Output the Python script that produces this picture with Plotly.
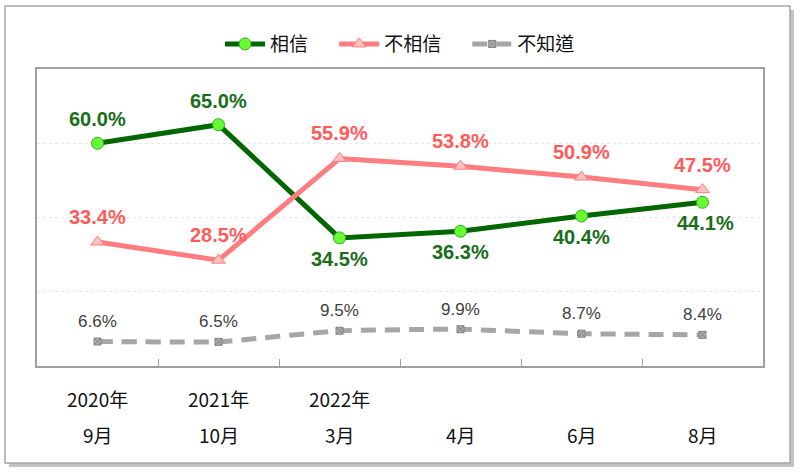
import plotly.graph_objs as go

# 調查時間
categories = ['2020年9月', '2021年10月', '2022年3月', '2022年4月', '2022年6月', '2022年8月']
year_labels = ['2020年', '2021年', '2022年', '', '', '']
month_labels = ['9月', '10月', '3月', '4月', '6月', '8月']

# 各選項比例 (%)
believe = [60.0, 65.0, 34.5, 36.3, 40.4, 44.1]
not_believe = [33.4, 28.5, 55.9, 53.8, 50.9, 47.5]
dont_know = [6.6, 6.5, 9.5, 9.9, 8.7, 8.4]

FONT = 'Liberation Sans, Noto Sans CJK TC, sans-serif'
CJK_FONT = 'Noto Sans CJK TC, sans-serif'
GREEN = '#006600'
GREEN_TXT = '#1a6e1a'
PINK = '#ff7c80'
PINK_TXT = '#ff5b5b'
GRAY = '#a6a6a6'
PAD = '\u00a0' * 4

line_b = go.Scatter(
    x=categories, y=believe, name='相信' + PAD, mode='lines+markers',
    line=dict(color=GREEN, width=5),
    marker=dict(symbol='circle', size=12, color='#66ff33',
                line=dict(color='#33aa22', width=1)))

line_nb = go.Scatter(
    x=categories, y=not_believe, name='不相信' + PAD, mode='lines+markers',
    line=dict(color=PINK, width=5),
    marker=dict(symbol='triangle-up', size=12, color='#ffc0c0',
                line=dict(color=PINK, width=1)))

line_dk = go.Scatter(
    x=categories, y=dont_know, name='不知道', mode='lines+markers',
    line=dict(color=GRAY, width=5, dash='15px,9px', shape='spline', smoothing=0.3),
    marker=dict(symbol='square-x', size=7, color='#b0b0b0',
                line=dict(color='#808080', width=1)))

annotations = []
# 相信 labels: first two above, rest below
for i, (c, v) in enumerate(zip(categories, believe)):
    up = i < 2
    annotations.append(dict(
        x=c, y=v, xref='x', yref='y', text='%.1f%%' % v, showarrow=False,
        yshift=24 if up else -21, xshift=3 if i == 5 else 0,
        font=dict(family=FONT, size=20, color=GREEN_TXT, weight='bold')))
for i, (c, v) in enumerate(zip(categories, not_believe)):
    annotations.append(dict(
        x=c, y=v, xref='x', yref='y', text='%.1f%%' % v, showarrow=False,
        yshift=25, font=dict(family=FONT, size=20, color=PINK_TXT, weight='bold')))
for c, v in zip(categories, dont_know):
    annotations.append(dict(
        x=c, y=v, xref='x', yref='y', text='%.1f%%' % v, showarrow=False,
        yshift=20, font=dict(family=FONT, size=17, color='#404040')))
# x 軸兩行標籤
for c, yr, mo in zip(categories, year_labels, month_labels):
    if yr:
        annotations.append(dict(
            x=c, y=-0.111, xref='x', yref='paper', text=yr, showarrow=False,
            yanchor='middle', font=dict(family=CJK_FONT, size=19, color='#111111')))
    annotations.append(dict(
        x=c, y=-0.232, xref='x', yref='paper', text=mo, showarrow=False,
        yanchor='middle', font=dict(family=CJK_FONT, size=19, color='#111111')))

# 外框 + 陰影
px_w, px_h = 726.0, 297.0
def px(xp, yp):
    return (xp - 37) / px_w, (366 - yp) / px_h

sx0, sy0 = px(9, 10)
sx1, sy1 = px(794, 467)
bx0, by0 = px(5, 6)
bx1, by1 = px(790, 463)
shapes = [
    dict(type='rect', xref='paper', yref='paper', x0=sx0, y0=sy0, x1=sx1, y1=sy1,
         fillcolor='#c4c4c4', line=dict(width=0), layer='below'),
    dict(type='rect', xref='paper', yref='paper', x0=bx0, y0=by0, x1=bx1, y1=by1,
         fillcolor='white', line=dict(color='#a8a8a8', width=1.5), layer='below'),
]

layout_s = go.Layout(
    width=800,
    height=472,
    margin=dict(l=37, r=37, t=69, b=106),
    paper_bgcolor='white',
    plot_bgcolor='rgba(0,0,0,0)',
    font=dict(family=FONT, size=19, color='#111111'),
    showlegend=True,
    legend=dict(orientation='h', x=0.5, xanchor='center', y=1.084, yanchor='middle',
                font=dict(family=FONT, size=19, color='#111111'),
                bgcolor='rgba(0,0,0,0)', itemwidth=40, tracegroupgap=0),
    xaxis=dict(
        type='category', categoryorder='array', categoryarray=categories,
        range=[-0.5, 5.5],
        showticklabels=False, ticks='inside', tickson='boundaries', ticklen=7,
        tickcolor='#a0a0a0', showgrid=False, showline=True, linecolor='#a0a0a0',
        linewidth=1.5, mirror=True, zeroline=False, fixedrange=True),
    yaxis=dict(
        range=[0, 80], tickvals=[20, 40, 60], showticklabels=False,
        showgrid=True, gridcolor='#e6e6e6', griddash='dot', gridwidth=1,
        showline=True, linecolor='#a0a0a0', linewidth=1.5, mirror=True,
        zeroline=False, ticks='', fixedrange=True),
    annotations=annotations,
    shapes=shapes,
)

fig = go.Figure([line_b, line_nb, line_dk], layout=layout_s)
# 去掉瀏覽器預設的 body 邊距
fig.write_html('out.html', config={'displayModeBar': False},
               post_script="document.body.style.margin='0';")
